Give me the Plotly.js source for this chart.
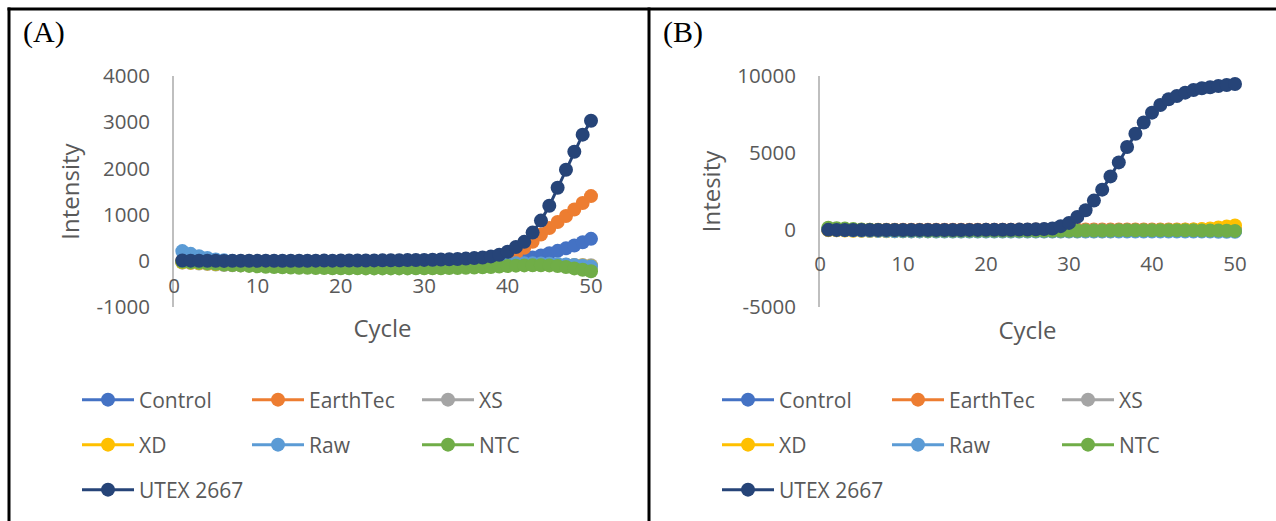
<!DOCTYPE html>
<html>
<head>
<meta charset="utf-8">
<script src="https://cdn.plot.ly/plotly-3.0.1.min.js"></script>
<style>html,body{margin:0;padding:0;background:#fff;}#chart{width:1276px;height:521px;}</style>
</head>
<body>
<div id="chart"></div>
<script>
// ---------- data ----------
const cycles = [1,2,3,4,5,6,7,8,9,10,11,12,13,14,15,16,17,18,19,20,21,22,23,24,25,26,27,28,29,30,31,32,33,34,35,36,37,38,39,40,41,42,43,44,45,46,47,48,49,50];
const seriesNames = ["Control","EarthTec","XS","XD","Raw","NTC","UTEX 2667"];
const seriesColors = ["#4472C4","#ED7D31","#A5A5A5","#FFC000","#5B9BD5","#70AD47","#264478"];

// tick labels
const xTickVals = [0,10,20,30,40,50];
const xTickText = ["0","10","20","30","40","50"];
const A_yTickVals = [-1000,0,1000,2000,3000,4000];
const A_yTickText = ["-1000","0","1000","2000","3000","4000"];
const B_yTickVals = [-5000,0,5000,10000];
const B_yTickText = ["-5000","0","5000","10000"];

// Panel A
const A_Control  = [-20,-25,-30,-30,-35,-40,-40,-45,-45,-50,-50,-50,-55,-55,-55,-60,-60,-60,-60,-60,-60,-60,-60,-60,-60,-60,-60,-60,-60,-60,-60,-55,-55,-55,-50,-50,-45,-40,-30,-15,10,30,70,115,165,215,270,330,400,475];
const A_EarthTec = [-10,-15,-20,-20,-25,-25,-30,-30,-30,-30,-35,-35,-35,-35,-35,-35,-35,-35,-35,-35,-35,-35,-35,-35,-35,-30,-30,-30,-30,-25,-25,-20,-20,-15,-10,-5,0,10,25,60,130,280,410,570,710,840,970,1110,1250,1400];
const A_XS       = [-40,-50,-60,-70,-80,-90,-95,-100,-100,-105,-105,-110,-110,-110,-110,-110,-110,-110,-110,-110,-110,-110,-110,-110,-110,-110,-110,-110,-110,-105,-105,-105,-100,-100,-100,-95,-95,-90,-90,-85,-85,-80,-80,-80,-80,-85,-85,-90,-90,-95];
const A_XD       = [-30,-40,-50,-60,-70,-75,-80,-85,-90,-90,-95,-95,-95,-100,-100,-100,-100,-100,-100,-100,-100,-100,-100,-100,-100,-100,-100,-100,-100,-100,-95,-95,-95,-95,-90,-90,-90,-90,-85,-85,-80,-80,-80,-80,-85,-85,-90,-95,-100,-110];
const A_Raw      = [210,150,100,60,30,10,-5,-20,-30,-40,-45,-50,-55,-60,-60,-65,-65,-70,-70,-70,-70,-75,-75,-75,-75,-75,-75,-75,-75,-75,-75,-75,-75,-70,-70,-70,-65,-65,-60,-60,-55,-55,-55,-60,-65,-70,-80,-90,-105,-120];
const A_NTC      = [-20,-30,-40,-55,-65,-80,-90,-100,-110,-120,-130,-135,-140,-145,-150,-150,-155,-155,-160,-160,-160,-160,-165,-165,-165,-165,-165,-165,-160,-160,-160,-160,-155,-155,-150,-145,-140,-135,-125,-115,-105,-100,-95,-95,-100,-115,-135,-165,-195,-225];
const A_UTEX     = [5,3,2,0,0,-2,0,1,2,0,3,2,1,0,0,2,3,4,3,5,6,5,8,9,10,12,13,15,18,20,24,28,34,40,48,58,72,95,130,195,300,410,610,870,1190,1580,1970,2360,2730,3030];

// Panel B
const B_Control  = [20,15,10,5,0,0,-5,-5,-5,-10,-10,-10,-10,-10,-10,-10,-10,-10,-10,-10,-10,-10,-10,-10,-10,-10,-10,-10,-10,-10,-10,-10,-10,-10,-10,-10,-10,-10,-10,-10,-10,-10,-10,-10,-10,-10,-10,-10,-10,-10];
const B_EarthTec = [30,25,20,20,20,20,20,20,20,20,20,20,20,20,20,20,20,20,20,20,20,20,20,20,20,25,25,25,25,30,30,30,30,30,35,35,35,35,35,35,35,35,35,35,35,35,30,30,30,30];
const B_XS       = [-10,-20,-20,-30,-30,-30,-30,-30,-30,-30,-30,-30,-30,-30,-30,-30,-30,-30,-30,-30,-30,-30,-30,-30,-30,-30,-30,-30,-30,-30,-30,-30,-30,-30,-30,-30,-30,-30,-30,-30,-30,-30,-30,-30,-30,-30,-30,-30,-30,-30];
const B_XD       = [0,-20,-40,-50,-60,-70,-70,-80,-80,-80,-80,-80,-80,-80,-80,-80,-80,-80,-80,-80,-80,-80,-80,-80,-80,-80,-80,-80,-80,-80,-80,-80,-80,-80,-80,-70,-60,-50,-40,-30,-20,-10,0,10,30,60,100,160,220,300];
const B_Raw      = [60,20,0,-20,-40,-50,-60,-70,-80,-80,-90,-90,-90,-100,-100,-100,-100,-100,-100,-100,-100,-100,-100,-100,-100,-100,-100,-100,-100,-100,-100,-100,-100,-100,-100,-100,-100,-100,-100,-100,-100,-100,-100,-100,-100,-100,-100,-110,-110,-120];
const B_NTC      = [150,120,90,60,40,20,0,-10,-20,-30,-40,-40,-50,-50,-50,-50,-50,-50,-50,-50,-50,-50,-50,-50,-50,-50,-50,-50,-50,-50,-50,-40,-40,-30,-30,-20,-20,-20,-20,-20,-20,-20,-20,-20,-20,-30,-30,-40,-50,-60];
const B_UTEX     = [10,5,0,0,0,0,0,0,0,0,0,0,0,0,0,0,0,5,5,10,10,15,20,25,35,45,60,100,250,460,850,1280,1910,2620,3480,4390,5390,6250,6980,7620,8120,8490,8700,8920,9090,9200,9270,9350,9420,9480];

const A_series = [A_Control,A_EarthTec,A_XS,A_XD,A_Raw,A_NTC,A_UTEX];
const B_series = [B_Control,B_EarthTec,B_XS,B_XD,B_Raw,B_NTC,B_UTEX];
// legend row of each series (0,1,2)
const legendRow = [0,0,0,1,1,1,2];

// ---------- helpers (pixel -> paper) ----------
const W = 1276, H = 521;
const px = v => v / W;
const py = v => 1 - v / H;

const FONT = '"Open Sans", "Liberation Sans", sans-serif';
const GREY = '#595959';

const traces = [];
function addPanel(series, xa, ya, legendBase) {
  series.forEach((vals, i) => {
    const lid = legendBase + legendRow[i];
    traces.push({
      type: 'scatter', mode: 'lines+markers',
      x: cycles, y: vals, name: seriesNames[i],
      xaxis: xa, yaxis: ya,
      legend: lid === 1 ? 'legend' : 'legend' + lid,
      line: {color: seriesColors[i], width: 3},
      marker: {color: seriesColors[i], size: 14},
      cliponaxis: false, hoverinfo: 'x+y+name'
    });
  });
}
addPanel(A_series, 'x', 'y', 1);
addPanel(B_series, 'x2', 'y2', 4);

const yDom = [py(307), py(76)];
function xAxis(dom, pos, standoff) {
  return {
    domain: dom, range: [0, 50], anchor: 'free', position: pos,
    tickvals: xTickVals, ticktext: xTickText, ticks: '', showline: false, showgrid: false, zeroline: false,
    tickfont: {family: FONT, size: 20.5, color: GREY},
    title: {text: 'Cycle', font: {family: FONT, size: 24, color: GREY}, standoff: standoff}
  };
}
function yAxis(anchor, range, tv, tt, title) {
  return {
    domain: yDom, range: range, tickvals: tv, ticktext: tt, anchor: anchor,
    showline: true, linecolor: '#BFBFBF', linewidth: 2, showgrid: false, zeroline: false, ticks: '',
    ticklabelstandoff: 18,
    tickfont: {family: FONT, size: 20.5, color: GREY},
    title: {text: title, font: {family: FONT, size: 24, color: GREY}, standoff: 10}
  };
}

function legendAt(xpix, ypix) {
  return {
    orientation: 'h', x: px(xpix), y: py(ypix), xanchor: 'left', yanchor: 'middle',
    entrywidth: 103, entrywidthmode: 'pixels', itemwidth: 52,
    font: {family: FONT, size: 21, color: GREY}, bgcolor: 'rgba(0,0,0,0)', borderwidth: 0
  };
}

const layout = {
  width: W, height: H,
  margin: {l: 0, r: 0, t: 0, b: 0},
  paper_bgcolor: '#ffffff', plot_bgcolor: '#ffffff',
  showlegend: true,
  xaxis: xAxis([px(174), px(591)], py(271), 22),
  yaxis: yAxis('x', [-1000, 4000], A_yTickVals, A_yTickText, 'Intensity'),
  xaxis2: xAxis([px(820), px(1235)], py(249), 46),
  yaxis2: yAxis('x2', [-5000, 10000], B_yTickVals, B_yTickText, 'Intesity'),
  legend: legendAt(77, 400),
  legend2: legendAt(77, 445),
  legend3: legendAt(77, 490),
  legend4: legendAt(717, 400),
  legend5: legendAt(717, 445),
  legend6: legendAt(717, 490),
  annotations: [
    {text: '(A)', xref: 'paper', yref: 'paper', x: px(21), y: py(32), xanchor: 'left', yanchor: 'middle', showarrow: false,
     font: {family: '"Liberation Serif", "Times New Roman", serif', size: 30, color: '#000'}},
    {text: '(B)', xref: 'paper', yref: 'paper', x: px(661), y: py(32), xanchor: 'left', yanchor: 'middle', showarrow: false,
     font: {family: '"Liberation Serif", "Times New Roman", serif', size: 30, color: '#000'}}
  ],
  shapes: [
    {type: 'line', xref: 'paper', yref: 'paper', x0: px(7.5), x1: 1, y0: py(9), y1: py(9), line: {color: '#000', width: 3}},
    {type: 'line', xref: 'paper', yref: 'paper', x0: px(9), x1: px(9), y0: py(7.5), y1: 0, line: {color: '#000', width: 3}},
    {type: 'line', xref: 'paper', yref: 'paper', x0: px(649), x1: px(649), y0: py(7.5), y1: 0, line: {color: '#000', width: 3}}
  ]
};

Plotly.newPlot('chart', traces, layout, {staticPlot: true, displayModeBar: false});
</script>
</body>
</html>
